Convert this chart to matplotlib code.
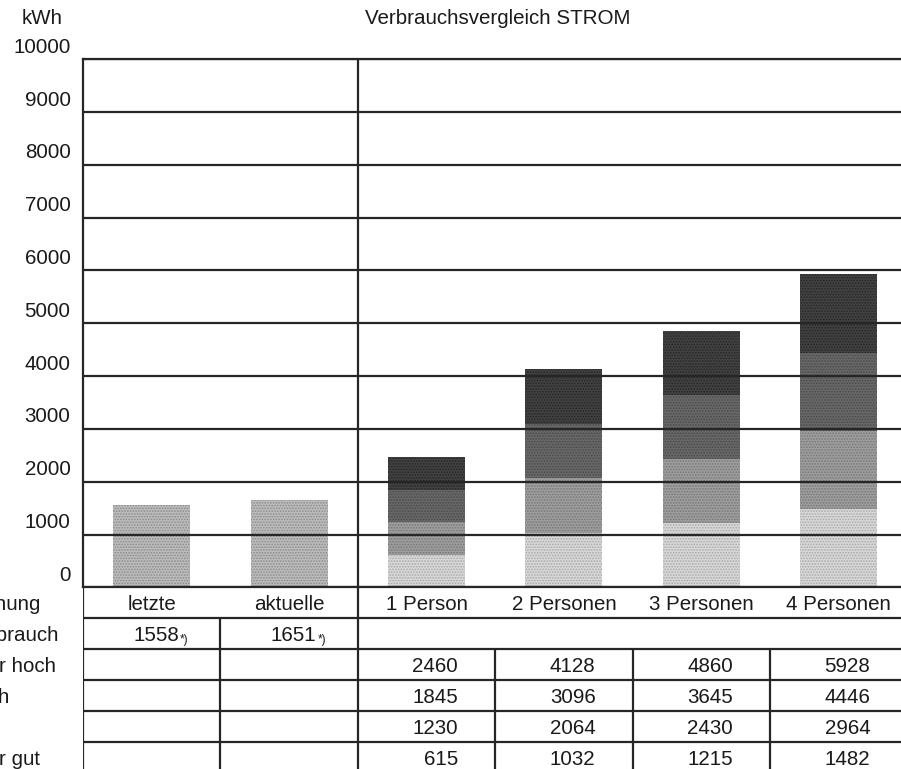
import numpy as np
import matplotlib
matplotlib.use("Agg")
import matplotlib.pyplot as plt
from matplotlib.transforms import ScaledTranslation

plt.rcParams['font.family'] = ['Liberation Sans', 'DejaVu Sans']
plt.rcParams['hatch.linewidth'] = 0.8

# data
categories = ["letzte", "aktuelle", "1 Person", "2 Personen", "3 Personen", "4 Personen"]
verbrauch = [1558, 1651]          # letzte / aktuelle Abrechnung
sehr_hoch = [2460, 4128, 4860, 5928]
hoch = [1845, 3096, 3645, 4446]
gut = [1230, 2064, 2430, 2964]
sehr_gut = [615, 1032, 1215, 1482]
row_labels = ["Abrechnung", "Verbrauch", "sehr hoch", "hoch", "gut", "sehr gut"]
y_ticks = [0, 1000, 2000, 3000, 4000, 5000, 6000, 7000, 8000, 9000, 10000]

txt = '#1a1a1a'
line = '#262626'
lw = 1.6
fs = 14.8

fig = plt.figure(figsize=(9.01, 7.69), dpi=100)

# main chart area (pixel geometry of the scan)
H = 769.0
ax = fig.add_axes([83/901, (H-587.3)/H, 1-83/901, (587.3-59.3)/H])
ax.set_xlim(-0.5, 5.453)
ax.set_ylim(0, 10000)
ax.set_yticks(y_ticks)
ax.set_yticklabels([str(v) for v in y_ticks], fontsize=fs, color=txt)
ax.set_xticks([])
ax.tick_params(axis='y', length=0, pad=9)
for lab in ax.get_yticklabels():
    lab.set_transform(lab.get_transform() + ScaledTranslation(0, 0.14, fig.dpi_scale_trans))
ax.yaxis.grid(True, color=line, lw=lw)
ax.set_axisbelow(False)
for s in ['left', 'top', 'bottom']:
    ax.spines[s].set_color(line)
    ax.spines[s].set_linewidth(lw)
ax.spines['right'].set_visible(False)
ax.axvline(1.5, color=line, lw=lw, zorder=3)

x = np.arange(len(categories))
w = 0.56

# own consumption bars
ax.bar(x[:2], verbrauch, w, color='#bcbcbc', hatch='......', edgecolor='#8a8a8a', linewidth=0)

# comparison bars, stacked by class boundaries
xs = x[2:]
seg_colors = ['#d8d8d8', '#9e9e9e', '#686868', '#424242']
seg_hatch = ['#a8a8a8', '#767676', '#4a4a4a', '#262626']
lows = [np.zeros(4), np.array(sehr_gut), np.array(gut), np.array(hoch)]
highs = [np.array(sehr_gut), np.array(gut), np.array(hoch), np.array(sehr_hoch)]
for lo, hi, c, hc in zip(lows, highs, seg_colors, seg_hatch):
    ax.bar(xs, hi - lo, w, bottom=lo, color=c, hatch='......', edgecolor=hc, linewidth=0)

# table below the chart
tb = fig.add_axes([83/901, (H-773.3)/H, 1-83/901, 186/H])
tb.set_xlim(-0.5, 5.453)
tb.set_ylim(6, 0)
tb.axis('off')
for r in range(1, 6):
    tb.axhline(r, color=line, lw=lw)
tb.vlines([-0.5, 1.5], 0, 6, color=line, lw=lw)
tb.vlines([0.5], 1, 6, color=line, lw=lw)
tb.vlines([2.5, 3.5, 4.5], 2, 6, color=line, lw=lw)

for xi, name in zip(x, categories):
    tb.text(xi, 0.55, name, ha='center', va='center', fontsize=fs, color=txt)

for xi, v in zip(x[:2], verbrauch):
    tb.text(xi + 0.2, 1.55, str(v), ha='right', va='center', fontsize=fs, color=txt)
    tb.annotate("*)", xy=(xi + 0.2, 1.55), xytext=(0.5, -3), textcoords='offset points',
                ha='left', va='center', fontsize=8.5, color=txt)

for r, vals in zip([2, 3, 4, 5], [sehr_hoch, hoch, gut, sehr_gut]):
    for xi, v in zip(xs, vals):
        tb.text(xi + 0.23, r + 0.55, str(v), ha='right', va='center', fontsize=fs, color=txt)

# row headers, cut off by the left edge of the scan
tb.text(-0.80, 0.55, row_labels[0], ha='right', va='center', fontsize=fs, color=txt, clip_on=False)
for r, lab in enumerate(row_labels[1:], start=1):
    tb.text(-1.354, r + 0.55, lab, ha='left', va='center', fontsize=fs, color=txt, clip_on=False)

fig.text(498/901, 1 - 19/H, "Verbrauchsvergleich STROM", ha='center', va='center', fontsize=fs, color=txt)
fig.text(42/901, 1 - 18/H, "kWh", ha='center', va='center', fontsize=fs, color=txt)

fig.savefig("out.png", dpi=100)
